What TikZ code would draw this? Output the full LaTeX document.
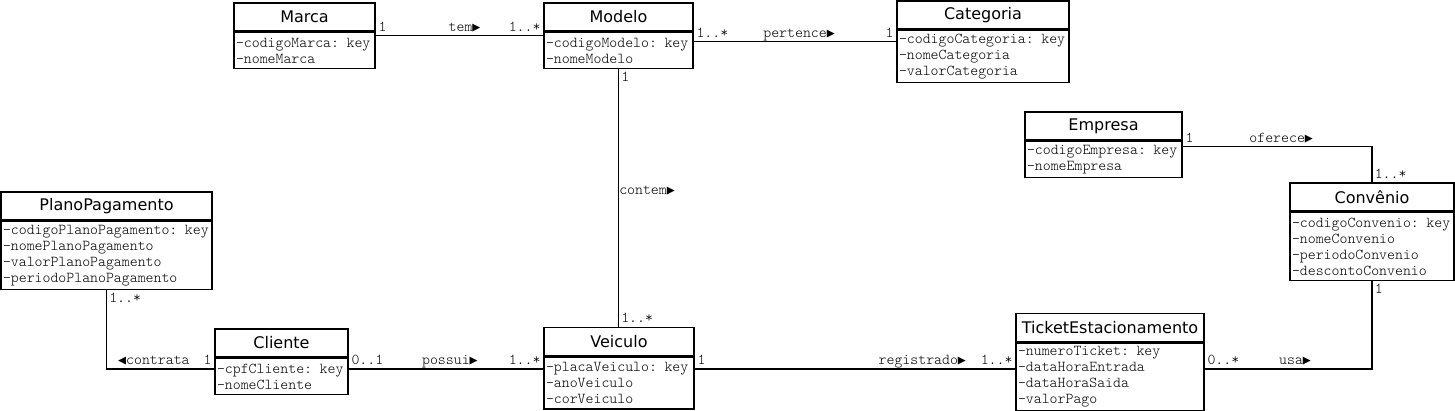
\documentclass[tikz,border=0pt]{standalone}
\usepackage{fontspec}
\setmonofont{Latin Modern Mono Light}
\newfontfamily\classfont{DejaVu Sans}
\newfontfamily\arrowfont{DejaVu Sans Mono}
\newcommand{\dirR}{{\arrowfont\fontsize{13.25}{16}\selectfont ▶}}
\newcommand{\dirL}{{\arrowfont\fontsize{13.25}{16}\selectfont ◀}}
\tikzset{
  classe/.style={draw, line width=1.5pt, minimum height=28pt, inner sep=0pt,
    font=\classfont\fontsize{16}{18}\selectfont},
  atrib/.style={draw, line width=1.5pt, anchor=north, align=left,
    inner xsep=2pt, inner ysep=0pt, font=\ttfamily\fontsize{15.1}{16}\selectfont},
  assoc/.style={line width=1.5pt},
  rot/.style={font=\ttfamily\fontsize{15.1}{16}\selectfont, inner sep=2pt},
}

\begin{document}
\begin{tikzpicture}[x=1pt, y=-1pt]
    \useasboundingbox (0,0) rectangle (1455,411);
    % Classes
    \node[classe, minimum width=141pt] (marca) at (304.5,17) {Marca};
    \node[atrib, text width=137pt, minimum height=36pt] (marca-attr) at (marca.south)
        {-codigoMarca: key\\-nomeMarca};
    \node[classe, minimum width=149pt] (modelo) at (618.5,17) {Modelo};
    \node[atrib, text width=145pt, minimum height=36pt] (modelo-attr) at (modelo.south)
        {-codigoModelo: key\\-nomeModelo};
    \node[classe, minimum width=172pt] (categoria) at (983,15) {Categoria};
    \node[atrib, text width=168pt, minimum height=52pt] (categoria-attr) at (categoria.south)
        {-codigoCategoria: key\\-nomeCategoria\\-valorCategoria};
    \node[classe, minimum width=157pt] (empresa) at (1103.5,126) {Empresa};
    \node[atrib, text width=153pt, minimum height=36pt] (empresa-attr) at (empresa.south)
        {-codigoEmpresa: key\\-nomeEmpresa};
    \node[classe, minimum width=164pt] (convenio) at (1372,197) {Convênio};
    \node[atrib, text width=160pt, minimum height=68pt] (convenio-attr) at (convenio.south)
        {-codigoConvenio: key\\-nomeConvenio\\-periodoConvenio\\-descontoConvenio};
    \node[classe, minimum width=211pt] (plano) at (106.5,206) {PlanoPagamento};
    \node[atrib, text width=207pt, minimum height=68pt] (plano-attr) at (plano.south)
        {-codigoPlanoPagamento: key\\-nomePlanoPagamento\\-valorPlanoPagamento\\-periodoPlanoPagamento};
    \node[classe, minimum width=133pt] (cliente) at (281.5,343) {Cliente};
    \node[atrib, text width=129pt, minimum height=36pt] (cliente-attr) at (cliente.south)
        {-cpfCliente: key\\-nomeCliente};
    \node[classe, minimum width=150pt] (veiculo) at (619,341.5) {Veiculo};
    \node[atrib, text width=146pt, minimum height=52pt] (veiculo-attr) at (veiculo.south)
        {-placaVeiculo: key\\-anoVeiculo\\-corVeiculo};
    \node[classe, minimum width=188pt] (ticket) at (1110,327.5) {TicketEstacionamento};
    \node[atrib, text width=184pt, minimum height=68pt] (ticket-attr) at (ticket.south)
        {-numeroTicket: key\\-dataHoraEntrada\\-dataHoraSaida\\-valorPago};
    % Marca - Modelo
    \draw[assoc] ([yshift=-4pt]marca-attr.north east) --
        node[rot, pos=0, anchor=base west, yshift=4pt] {1}
        node[rot, pos=0.53, anchor=base, yshift=4pt] {tem\dirR}
        node[rot, pos=1, anchor=base east, yshift=4pt] {1..*}
        ([yshift=-4pt]modelo-attr.north west);
    % Modelo - Categoria
    \draw[assoc] ([yshift=-10pt]modelo-attr.north east) --
        node[rot, pos=0, anchor=base west, yshift=4pt] {1..*}
        node[rot, pos=0.52, anchor=base, yshift=4pt] {pertence\dirR}
        node[rot, pos=1, anchor=base east, yshift=4pt] {1}
        ([yshift=-12pt]categoria-attr.north west);
    % Modelo - Veiculo
    \draw[assoc] (modelo-attr.south) --
        node[rot, pos=0, anchor=north west] {1}
        node[rot, pos=0.47, anchor=west, inner xsep=0pt] {contem\dirR}
        node[rot, pos=1, anchor=base west, yshift=4pt] {1..*}
        (modelo-attr.south |- veiculo.north);
    % Empresa - Convenio
    \draw[assoc] ([yshift=-6pt]empresa-attr.north east) -|
        node[rot, pos=0, anchor=base west, yshift=4pt] {1}
        node[rot, pos=0.26, anchor=base, yshift=4pt] {oferece\dirR}
        node[rot, pos=1, anchor=base west, yshift=4pt] {1..*}
        (convenio.north);
    % Convenio - Ticket
    \draw[assoc] (convenio-attr.south) |-
        node[rot, pos=0, anchor=north west] {1}
        node[rot, pos=0.73, anchor=base, yshift=4pt] {usa\dirR}
        node[rot, pos=1, anchor=base west, yshift=4pt] {0..*}
        ([yshift=-26.5pt]ticket-attr.north east);
    % Veiculo - Ticket
    \draw[assoc] ([yshift=-12.5pt]veiculo-attr.north east) --
        node[rot, pos=0, anchor=base west, yshift=4pt] {1}
        node[rot, pos=0.71, anchor=base, yshift=4pt] {registrado\dirR}
        node[rot, pos=1, anchor=base east, yshift=4pt] {1..*}
        ([yshift=-26.5pt]ticket-attr.north west);
    % Cliente - Veiculo
    \draw[assoc] ([yshift=-11pt]cliente-attr.north east) --
        node[rot, pos=0, anchor=base west, yshift=4pt] {0..1}
        node[rot, pos=0.52, anchor=base, yshift=4pt] {possui\dirR}
        node[rot, pos=1, anchor=base east, yshift=4pt] {1..*}
        ([yshift=-12.5pt]veiculo-attr.north west);
    % PlanoPagamento - Cliente
    \draw[assoc] (plano-attr.south) |-
        node[rot, pos=0, anchor=north west] {1..*}
        node[rot, pos=0.72, anchor=base, yshift=4pt] {\dirL contrata}
        node[rot, pos=1, anchor=base east, yshift=4pt] {1}
        ([yshift=-11pt]cliente-attr.north west);
\end{tikzpicture}
\end{document}
